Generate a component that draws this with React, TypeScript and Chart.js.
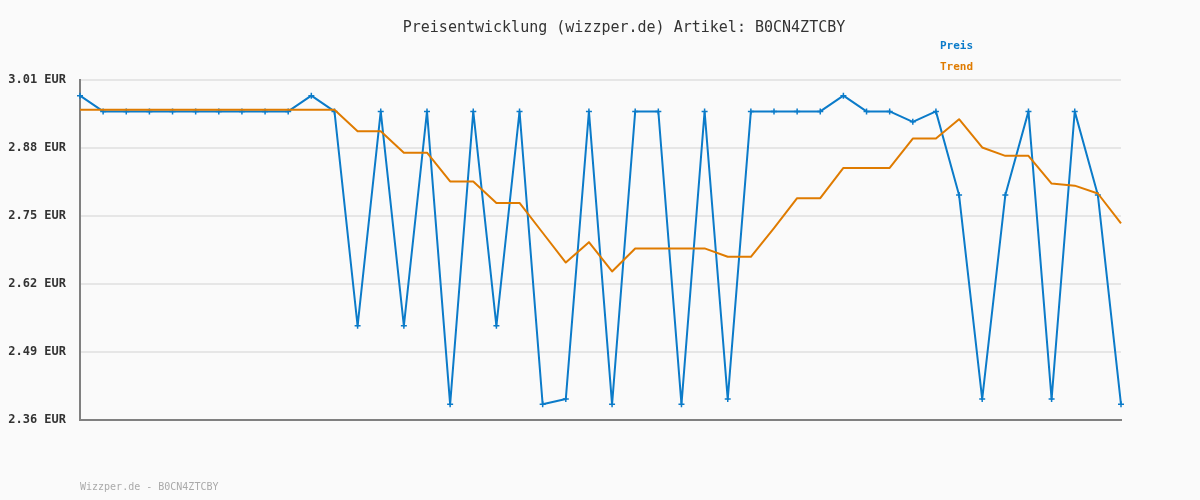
import { useEffect, useRef } from 'react';
import { Chart, registerables } from 'chart.js';

Chart.register(...registerables);

const TITLE = 'Preisentwicklung (wizzper.de) Artikel: B0CN4ZTCBY';
const FOOTER = 'Wizzper.de - B0CN4ZTCBY';
const seriesNames = ['Preis', 'Trend'];
const seriesColors = ['#0b7bc9', '#df7b00'];

const categories = Array.from({ length: 46 }, (_, i) => String(i + 1));

const preis = [
  2.98, 2.95, 2.95, 2.95, 2.95, 2.95, 2.95, 2.95, 2.95, 2.95,
  2.98, 2.95, 2.54, 2.95, 2.54, 2.95, 2.39, 2.95, 2.54, 2.95,
  2.39, 2.40, 2.95, 2.39, 2.95, 2.95, 2.39, 2.95, 2.40, 2.95,
  2.95, 2.95, 2.95, 2.98, 2.95, 2.95, 2.93, 2.95, 2.79, 2.40,
  2.79, 2.95, 2.40, 2.95, 2.79, 2.39,
];

const trend = [
  2.953, 2.953, 2.953, 2.953, 2.953, 2.953, 2.953, 2.953, 2.953, 2.953,
  2.953, 2.953, 2.912, 2.912, 2.871, 2.871, 2.816, 2.816, 2.775, 2.775,
  2.718, 2.661, 2.700, 2.644, 2.688, 2.688, 2.688, 2.688, 2.672, 2.672,
  2.727, 2.784, 2.784, 2.842, 2.842, 2.842, 2.898, 2.898, 2.935, 2.881,
  2.865, 2.865, 2.812, 2.808, 2.793, 2.736,
];

const yTicks = [2.36, 2.49, 2.62, 2.75, 2.88, 3.01];

const textPlugin = {
  id: 'customTexts',
  afterDraw(chart: any) {
    const { ctx, chartArea } = chart;
    ctx.save();
    ctx.textBaseline = 'middle';
    // title
    ctx.font = '15px "DejaVu Sans Mono", monospace';
    ctx.fillStyle = '#333333';
    ctx.textAlign = 'center';
    ctx.fillText(TITLE, chartArea.left + 544, chartArea.top - 52);
    // legend
    ctx.textAlign = 'left';
    ctx.font = 'bold 11px "DejaVu Sans Mono", monospace';
    seriesNames.forEach((name, i) => {
      ctx.fillStyle = seriesColors[i];
      ctx.fillText(name, chartArea.right - 181, chartArea.top - 34 + i * 21);
    });
    // footer
    ctx.font = '10px "DejaVu Sans Mono", monospace';
    ctx.fillStyle = '#aaaaaa';
    ctx.fillText(FOOTER, chartArea.left, chartArea.bottom + 67);
    ctx.restore();
  },
};

export default function App() {
  const canvasRef = useRef<HTMLCanvasElement | null>(null);

  useEffect(() => {
    if (!canvasRef.current) return;
    const chart = new Chart(canvasRef.current, {
      type: 'line',
      data: {
        labels: categories,
        datasets: [
          {
            label: seriesNames[0],
            data: preis,
            borderColor: seriesColors[0],
            backgroundColor: seriesColors[0],
            borderWidth: 2,
            borderJoinStyle: 'round',
            tension: 0,
            pointStyle: 'cross',
            pointRadius: 3,
            pointBorderWidth: 1.5,
            pointBorderColor: seriesColors[0],
            order: 1,
          },
          {
            label: seriesNames[1],
            data: trend,
            borderColor: seriesColors[1],
            backgroundColor: seriesColors[1],
            borderWidth: 2,
            borderJoinStyle: 'round',
            tension: 0,
            pointRadius: 0,
            order: 0,
          },
        ],
      },
      options: {
        responsive: false,
        animation: false,
        layout: { padding: { top: 80, right: 79, bottom: 80, left: 0 } },
        plugins: {
          legend: { display: false },
          title: { display: false },
          tooltip: { enabled: false },
        },
        scales: {
          x: {
            type: 'category',
            offset: false,
            ticks: { display: false },
            grid: { display: false, drawTicks: false },
            border: { display: true, color: '#808080', width: 2 },
            afterFit: (s: any) => {
              s.height = 0;
            },
          },
          y: {
            type: 'linear',
            min: 2.36,
            max: 3.01,
            afterBuildTicks: (s: any) => {
              s.ticks = yTicks.map((v) => ({ value: v }));
            },
            afterFit: (s: any) => {
              s.width = 80;
            },
            ticks: {
              padding: 14,
              color: '#333333',
              font: { family: '"DejaVu Sans Mono", monospace', size: 12, weight: 'bold' },
              callback: (v: any) => Number(v).toFixed(2) + ' EUR',
            },
            grid: { color: '#e6e6e6', lineWidth: 2, drawTicks: false },
            border: { display: true, color: '#808080', width: 2 },
          },
        },
      },
      plugins: [textPlugin],
    });
    return () => chart.destroy();
  }, []);

  return (
    <div style={{ position: 'fixed', left: 0, top: 0, width: 1200, height: 500, background: '#fafafa' }}>
      <canvas ref={canvasRef} width={1200} height={500} style={{ display: 'block' }} />
    </div>
  );
}
